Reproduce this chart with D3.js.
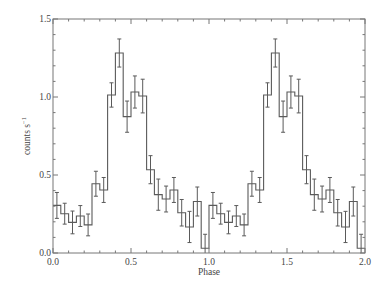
<!DOCTYPE html>
<html>
<head>
<meta charset="utf-8">
<script src="https://cdn.jsdelivr.net/npm/d3@7"></script>
<style>
  body { margin: 0; background: #fff; }
</style>
</head>
<body>
<div id="chart"></div>
<script>
// one phase of the folded light curve, 20 bins, shown twice
const binCounts = [0.305, 0.252, 0.196, 0.237, 0.18, 0.444, 0.404, 1.013, 1.282, 0.874,
                   1.032, 1.006, 0.534, 0.374, 0.346, 0.404, 0.258, 0.167, 0.33, 0.03];
const binErrors = [0.083, 0.067, 0.073, 0.067, 0.07, 0.08, 0.08, 0.078, 0.09, 0.1,
                   0.103, 0.108, 0.09, 0.1, 0.083, 0.08, 0.085, 0.1, 0.093, 0.09];
const xTicks = [0, 0.5, 1.0, 1.5, 2.0];
const yTicks = [0, 0.5, 1.0, 1.5];

const width = 382, height = 287;
const margin = { left: 53, right: 17, top: 19, bottom: 34 };
const font = "'Liberation Serif', 'DejaVu Serif', serif";

const nBins = binCounts.length;
const binWidth = 1 / nBins;
const bins = [];
for (let k = 0; k < 2; k++) {
  binCounts.forEach((c, i) => {
    bins.push({ x0: k + i * binWidth, x1: k + (i + 1) * binWidth, v: c, e: binErrors[i] });
  });
}

const svg = d3.select("#chart").append("svg")
  .attr("width", width)
  .attr("height", height);

const x = d3.scaleLinear().domain([0, 2]).range([margin.left, width - margin.right]);
const y = d3.scaleLinear().domain([0, 1.5]).range([height - margin.bottom, margin.top]);

const lineColor = "#5a5a5a";

// step histogram
const pts = [];
bins.forEach(b => { pts.push([b.x0, b.v]); pts.push([b.x1, b.v]); });
svg.append("path")
  .attr("d", d3.line().x(d => x(d[0])).y(d => y(d[1]))(pts))
  .attr("fill", "none")
  .attr("stroke", lineColor)
  .attr("stroke-width", 1.1);

// error bars
const eb = svg.append("g").attr("stroke", lineColor).attr("stroke-width", 1);
bins.forEach(b => {
  const cx = x((b.x0 + b.x1) / 2);
  const lo = y(Math.max(0, b.v - b.e)), hi = y(b.v + b.e);
  eb.append("line").attr("x1", cx).attr("x2", cx).attr("y1", lo).attr("y2", hi);
  eb.append("line").attr("x1", cx - 2).attr("x2", cx + 2).attr("y1", hi).attr("y2", hi);
  if (b.v - b.e > 0)
    eb.append("line").attr("x1", cx - 2).attr("x2", cx + 2).attr("y1", lo).attr("y2", lo);
});

// frame
const axisColor = "#777";
svg.append("rect")
  .attr("x", x(0)).attr("y", y(1.5))
  .attr("width", x(2) - x(0)).attr("height", y(0) - y(1.5))
  .attr("fill", "none").attr("stroke", axisColor).attr("stroke-width", 1);

// ticks on all four sides, pointing inwards
const tk = svg.append("g").attr("stroke", axisColor).attr("stroke-width", 1);
d3.range(0, 2.001, 0.1).forEach(t => {
  const major = xTicks.some(m => Math.abs(m - t) < 1e-6);
  const len = major ? 5 : 2.5;
  tk.append("line").attr("x1", x(t)).attr("x2", x(t)).attr("y1", y(0)).attr("y2", y(0) - len);
  tk.append("line").attr("x1", x(t)).attr("x2", x(t)).attr("y1", y(1.5)).attr("y2", y(1.5) + len);
});
d3.range(0, 1.501, 0.1).forEach(t => {
  const major = yTicks.some(m => Math.abs(m - t) < 1e-6);
  const len = major ? 5 : 2.5;
  tk.append("line").attr("y1", y(t)).attr("y2", y(t)).attr("x1", x(0)).attr("x2", x(0) + len);
  tk.append("line").attr("y1", y(t)).attr("y2", y(t)).attr("x1", x(2)).attr("x2", x(2) - len);
});

// tick labels
svg.selectAll(".xl").data(xTicks).enter().append("text")
  .attr("x", d => x(d)).attr("y", y(0) + 12)
  .attr("text-anchor", "middle").attr("font-size", 9.5)
  .attr("font-family", font).attr("fill", "#444")
  .text(d => d.toFixed(1));
svg.selectAll(".yl").data(yTicks).enter().append("text")
  .attr("x", x(0) - 2).attr("y", d => y(d) + 3)
  .attr("text-anchor", "end").attr("font-size", 9.5)
  .attr("font-family", font).attr("fill", "#444")
  .text(d => d.toFixed(1));

// axis titles
svg.append("text")
  .attr("x", x(1)).attr("y", y(0) + 22)
  .attr("text-anchor", "middle").attr("font-size", 9.5)
  .attr("font-family", font).attr("fill", "#444")
  .text("Phase");
const yt = svg.append("text")
  .attr("transform", `translate(30,${y(0.75)}) rotate(-90)`)
  .attr("text-anchor", "middle").attr("font-size", 9.5)
  .attr("font-family", font).attr("fill", "#444");
yt.append("tspan").text("counts s");
yt.append("tspan").attr("dy", -4).attr("font-size", 6.5).text("−1");
</script>
</body>
</html>
